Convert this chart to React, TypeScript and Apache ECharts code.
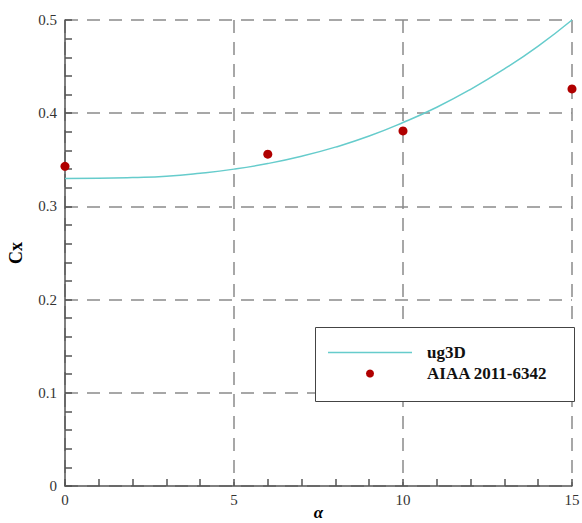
import React, { useEffect, useRef } from "react";
import * as echarts from "echarts";

const curveX = [0, 1, 2, 3, 4, 5, 6, 7, 8, 9, 10, 11, 12, 13, 14, 15];
const curveY = [0.330, 0.3302, 0.331, 0.3324, 0.3356, 0.340, 0.346, 0.3538, 0.3636, 0.3755, 0.390, 0.4064, 0.4256, 0.4475, 0.472, 0.500];
const expX = [0, 6, 10, 15];
const expY = [0.343, 0.356, 0.381, 0.426];
const seriesNames = ["ug3D", "AIAA 2011-6342"];

const serif = "Liberation Serif";

export default function App() {
  const ref = useRef<HTMLDivElement>(null);
  useEffect(() => {
    if (!ref.current) return;
    const chart = echarts.init(ref.current, null, { renderer: "svg" });
    const gridLine = { show: true, lineStyle: { color: "#8a8a8a", width: 1.5, type: [13, 9] as any } };
    chart.setOption({
      animation: false,
      backgroundColor: "#fff",
      grid: { left: 65, right: 10, top: 20, bottom: 37, containLabel: false, outerBoundsMode: "none" },
      xAxis: {
        type: "value",
        min: 0,
        max: 15,
        interval: 5,
        name: "α",
        nameLocation: "middle",
        nameGap: 18,
        nameMoveOverlap: false,
        nameTextStyle: { fontFamily: serif, fontSize: 17, fontWeight: "bold", fontStyle: "italic", color: "#000" },
        axisLine: { show: true, onZero: false, lineStyle: { color: "#555", width: 1.5 } },
        axisTick: { show: true, inside: true, length: 7, lineStyle: { color: "#555", width: 1.5 } },
        minorTick: { show: true, splitNumber: 5, length: 7, lineStyle: { color: "#555", width: 1.5 } },
        axisLabel: { fontFamily: serif, fontSize: 15, color: "#333", margin: 6 },
        splitLine: gridLine,
      },
      yAxis: {
        type: "value",
        min: 0,
        max: 0.5,
        interval: 0.1,
        name: "Cx",
        nameLocation: "middle",
        nameGap: 40,
        nameMoveOverlap: false,
        nameTextStyle: { fontFamily: serif, fontSize: 18, fontWeight: "bold", color: "#000" },
        axisLine: { show: true, onZero: false, lineStyle: { color: "#555", width: 1.5 } },
        axisTick: { show: true, inside: true, length: 7, lineStyle: { color: "#555", width: 1.5 } },
        minorTick: { show: true, splitNumber: 5, length: 7, lineStyle: { color: "#555", width: 1.5 } },
        axisLabel: { fontFamily: serif, fontSize: 15, color: "#333", margin: 8 },
        splitLine: gridLine,
      },
      graphic: [
        {
          type: "rect",
          left: 315,
          top: 327,
          shape: { width: 259, height: 74 },
          style: { fill: "#fff", stroke: "#444", lineWidth: 1 },
          z: 5,
        },
      ],
      legend: {
        orient: "vertical",
        left: 328,
        top: 344,
        itemWidth: 84,
        itemHeight: 8,
        itemGap: 4,
        padding: 0,
        z: 10,
        textStyle: { fontFamily: serif, fontSize: 17, fontWeight: "bold", color: "#111", padding: [0, 0, 0, 10] },
        data: [
          { name: seriesNames[0], icon: "path://M0,0H84V1.5H0Z", itemStyle: { color: "#66cccc" } },
          { name: seriesNames[1], icon: "circle" },
        ],
      },
      series: [
        {
          name: seriesNames[0],
          type: "line",
          data: curveX.map((x, i) => [x, curveY[i]]),
          smooth: true,
          symbol: "none",
          showSymbol: false,
          lineStyle: { color: "#66cccc", width: 1.5 },
          itemStyle: { color: "#66cccc" },
          z: 3,
        },
        {
          name: seriesNames[1],
          type: "scatter",
          data: expX.map((x, i) => [x, expY[i]]),
          symbol: "circle",
          symbolSize: 9,
          itemStyle: { color: "#b00000", opacity: 1 },
          z: 4,
        },
      ],
    });
    return () => chart.dispose();
  }, []);
  return <div ref={ref} style={{ width: 582, height: 523, position: "absolute", left: 0, top: 0 }} />;
}
